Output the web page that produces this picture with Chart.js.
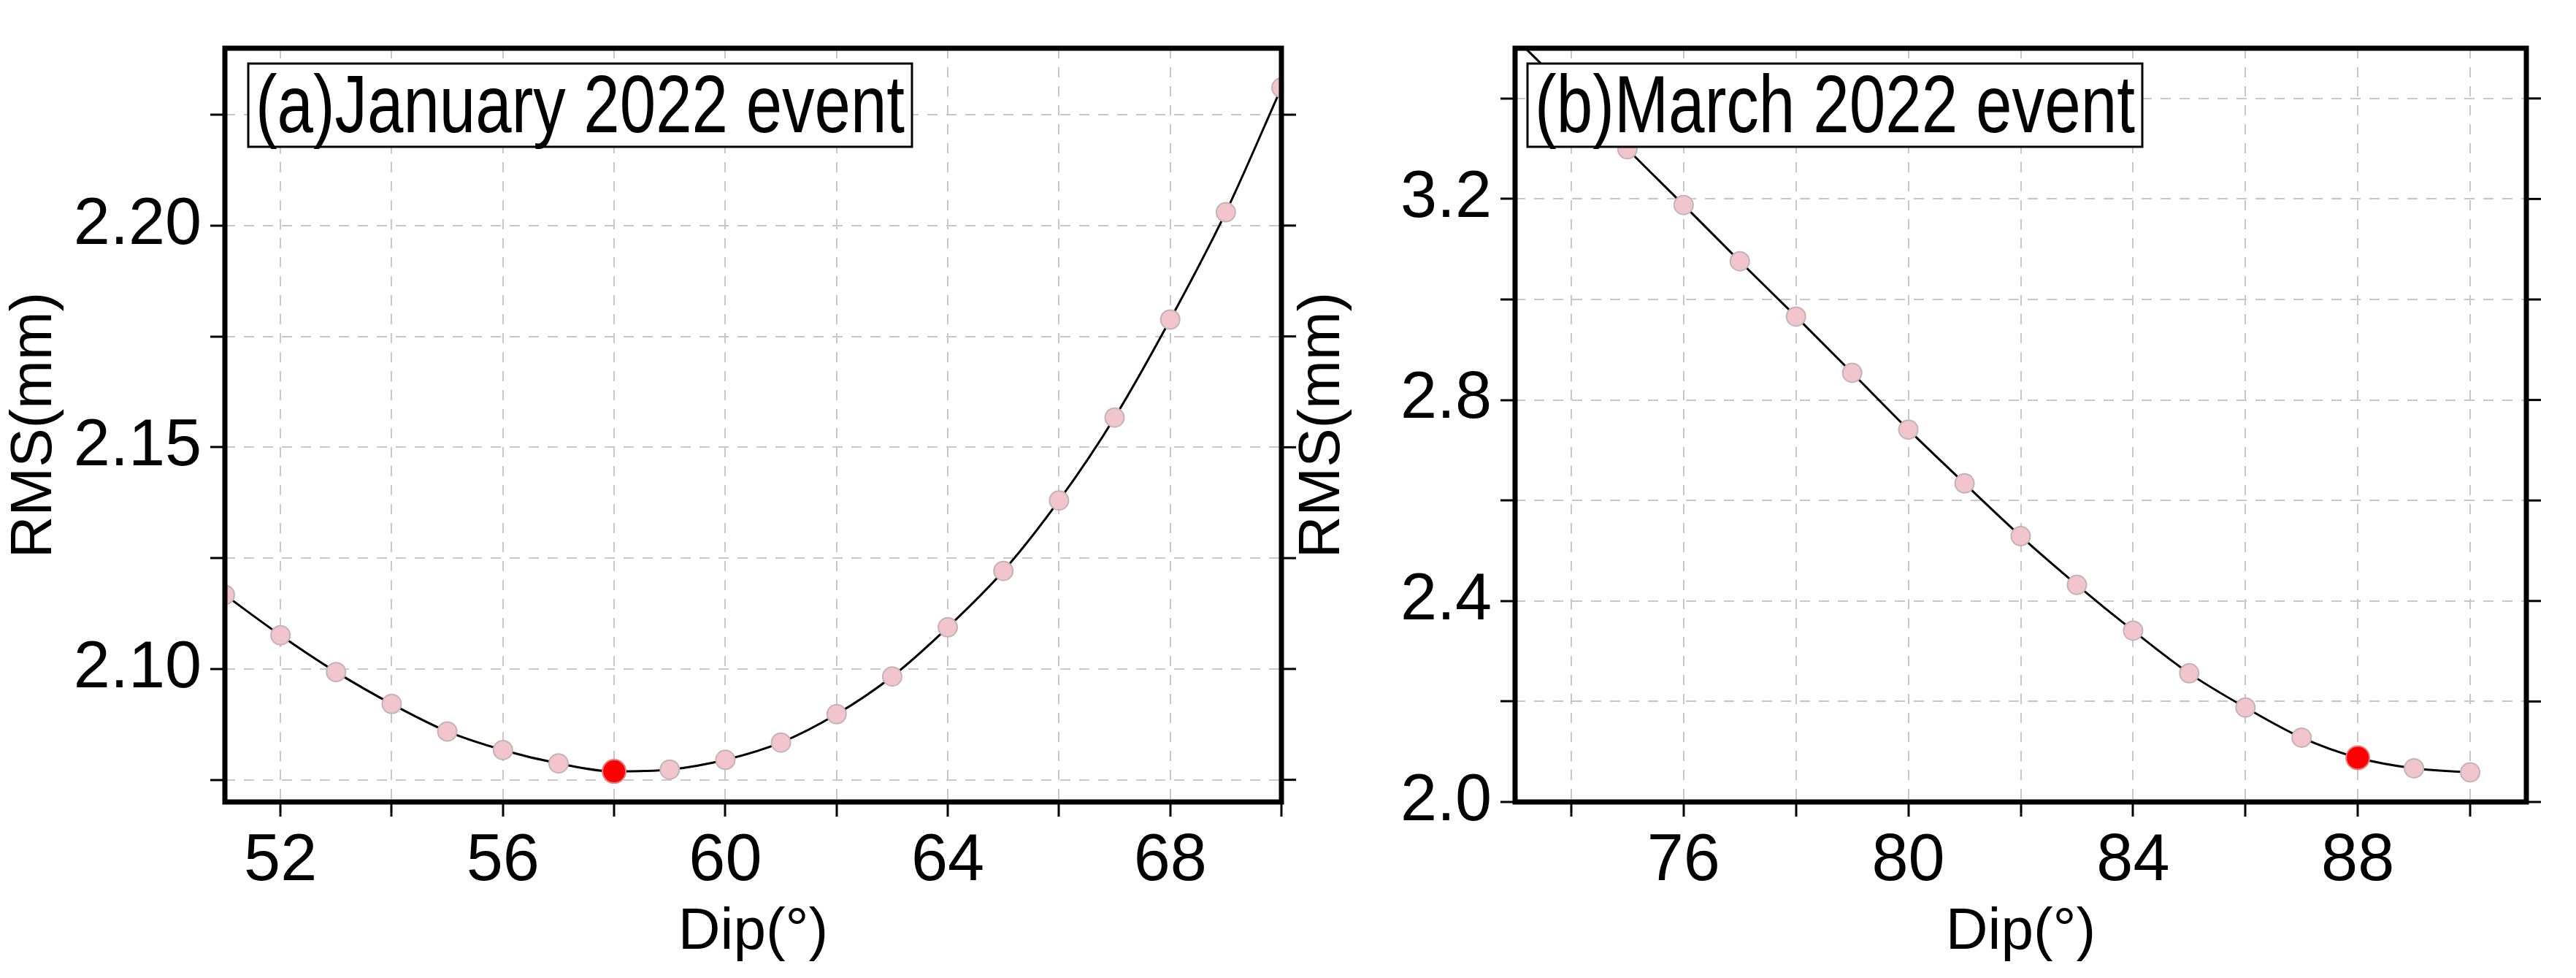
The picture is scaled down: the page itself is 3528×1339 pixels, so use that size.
<!DOCTYPE html>
<html>
<head>
<meta charset="utf-8">
<script src="https://cdn.jsdelivr.net/npm/chart.js@4"></script>
<style>
  body { margin: 0; background: #fff; width: 3528px; height: 1339px; position: relative; overflow: hidden; }
  .panel { position: absolute; top: 0; height: 1339px; }
</style>
</head>
<body>
<div class="panel" style="left:0;width:1800px"><canvas id="chartA"></canvas></div>
<div class="panel" style="left:1764px;width:1764px"><canvas id="chartB"></canvas></div>
<script>
// Panel (a) January 2022 event
const dipA = [51, 52, 53, 54, 55, 56, 57, 58, 59, 60, 61, 62, 63, 64, 65, 66, 67, 68, 69, 70];
const rmsA = [2.1167, 2.1076, 2.0993, 2.0921, 2.0859, 2.0817, 2.0787, 2.0769, 2.0773, 2.0795,
              2.0834, 2.0898, 2.0983, 2.1094, 2.1221, 2.1380, 2.1567, 2.1788, 2.2030, 2.2311];
const bestA = 58;
const xTicksA = [52, 54, 56, 58, 60, 62, 64, 66, 68, 70];
const yTicksA = [2.075, 2.100, 2.125, 2.150, 2.175, 2.200, 2.225];

// Panel (b) March 2022 event
const dipB = [73, 74, 75, 76, 77, 78, 79, 80, 81, 82, 83, 84, 85, 86, 87, 88, 89, 90];
const rmsB = [3.52, 3.41, 3.299, 3.188, 3.076, 2.966, 2.854, 2.741, 2.634, 2.529, 2.432, 2.341,
              2.256, 2.188, 2.128, 2.088, 2.067, 2.059];
const bestB = 88;
const hiddenB = [73, 74];
const xTicksB = [74, 76, 78, 80, 82, 84, 86, 88, 90];
const yTicksB = [2.0, 2.2, 2.4, 2.6, 2.8, 3.0, 3.2, 3.4];

const FONT = "'Liberation Sans Narrow', 'Liberation Sans', Arial, sans-serif";
Chart.defaults.font.family = FONT;
Chart.defaults.color = '#000';

const framePlugin = {
  id: 'frame',
  afterDraw(chart, args, opts) {
    const { ctx, chartArea: a, scales } = chart;
    ctx.save();
    // right side ticks
    ctx.strokeStyle = '#000';
    ctx.lineWidth = 3;
    scales.y.ticks.forEach(t => {
      const y = scales.y.getPixelForValue(t.value);
      ctx.beginPath();
      ctx.moveTo(a.right, y);
      ctx.lineTo(a.right + 20, y);
      ctx.stroke();
    });
    // frame
    ctx.lineWidth = 7;
    ctx.strokeRect(a.left, a.top, a.right - a.left, a.bottom - a.top);
    // label box
    const bx = opts.boxX, by = a.top + 21, bw = opts.boxW, bh = 114;
    ctx.fillStyle = '#fff';
    ctx.fillRect(bx, by, bw, bh);
    ctx.lineWidth = 3;
    ctx.strokeRect(bx, by, bw, bh);
    ctx.fillStyle = '#000';
    ctx.font = `112px ${FONT}`;
    ctx.textBaseline = 'middle';
    const w = ctx.measureText(opts.label).width;
    const sx = Math.min(1, (bw - 20) / w);
    ctx.translate(bx + 10, by + bh / 2 + 6);
    ctx.scale(sx, 1);
    ctx.fillText(opts.label, 0, 0);
    ctx.restore();
  }
};

function makeChart(id, dips, rms, best, hidden, xr, yr, xTicks, yTicks, xLabelEvery, yLabelEvery, yDigits, yWidth, rightPad, label, boxX, boxW) {
  const radii = dips.map(d => hidden.includes(d) ? 0 : (d === best ? 16 : 13));
  const fills = dips.map(d => d === best ? '#ff0000' : '#f2c4cc');
  const borders = dips.map(d => d === best ? '#e08080' : '#c4b4b6');
  const gridOpts = { color: '#c8c8c8', lineWidth: 2, tickColor: '#000', tickLength: 20, tickBorderDash: [], tickWidth: 3 };
  return new Chart(document.getElementById(id), {
    type: 'line',
    data: {
      labels: dips,
      datasets: [{
        data: dips.map((d, i) => ({ x: d, y: rms[i] })),
        borderColor: '#000',
        borderWidth: 3,
        tension: 0.4,
        cubicInterpolationMode: 'monotone',
        pointRadius: radii,
        pointBackgroundColor: fills,
        pointBorderColor: borders,
        pointBorderWidth: 2
      }]
    },
    options: {
      responsive: true,
      maintainAspectRatio: false,
      animation: false,
      layout: { padding: { top: 40, right: rightPad, left: 0, bottom: 0 } },
      plugins: {
        legend: { display: false },
        tooltip: { enabled: false },
        frame: { label, boxX, boxW }
      },
      scales: {
        x: {
          type: 'linear', min: xr[0], max: xr[1],
          afterBuildTicks: s => { s.ticks = xTicks.map(v => ({ value: v })); },
          afterFit: s => { s.height = 241; },
          ticks: {
            font: { size: 90 }, padding: 8, maxRotation: 0, autoSkip: false,
            callback: v => (v % xLabelEvery === 0 ? String(v) : '')
          },
          grid: gridOpts,
          border: { display: false, dash: [14, 12] },
          title: { display: true, text: 'Dip(°)', font: { size: 80 }, padding: { top: 0, bottom: 14 } }
        },
        y: {
          min: yr[0], max: yr[1],
          afterBuildTicks: s => { s.ticks = yTicks.map(v => ({ value: v })); },
          afterFit: s => { s.width = yWidth; },
          ticks: {
            font: { size: 90 }, padding: 12, autoSkip: false,
            callback: v => (Math.abs(Math.round(v / yLabelEvery) * yLabelEvery - v) < 1e-6 ? v.toFixed(yDigits) : '')
          },
          grid: gridOpts,
          border: { display: false, dash: [14, 12] },
          title: { display: true, text: 'RMS(mm)', font: { size: 80 }, padding: { top: 0, bottom: 0 } }
        }
      }
    },
    plugins: [framePlugin]
  });
}

makeChart('chartA', dipA, rmsA, bestA, [], [51, 70], [2.07, 2.24], xTicksA, yTicksA, 4, 0.05, 2,
  308, 45, '(a)January 2022 event', 340, 909);
makeChart('chartB', dipB, rmsB, bestB, hiddenB, [73, 91], [2.0, 3.5], xTicksB, yTicksB, 4, 0.4, 1,
  311, 68, '(b)March 2022 event', 328, 842);
</script>
</body>
</html>
